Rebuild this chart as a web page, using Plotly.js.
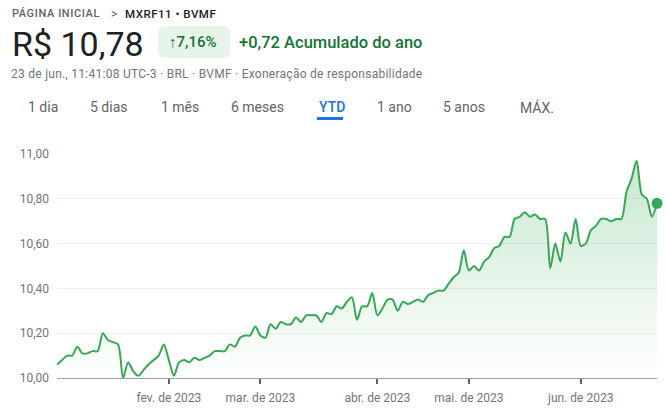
<!DOCTYPE html>
<html>
<head>
<meta charset="utf-8">
<script src="https://cdn.plot.ly/plotly-3.0.1.min.js"></script>
<style>html,body{margin:0;padding:0;background:#fff;}#chart{width:668px;height:413px;}</style>
</head>
<body>
<div id="chart"></div>
<script>
// ---- data ----
const dates = [
 '2023-01-02','2023-01-03','2023-01-04','2023-01-05','2023-01-06','2023-01-09','2023-01-10','2023-01-11','2023-01-12','2023-01-13',
 '2023-01-16','2023-01-17','2023-01-18','2023-01-19','2023-01-20','2023-01-23','2023-01-24','2023-01-25','2023-01-26','2023-01-27',
 '2023-01-30','2023-01-31',
 '2023-02-01','2023-02-02','2023-02-03','2023-02-06','2023-02-07','2023-02-08','2023-02-09','2023-02-10','2023-02-13','2023-02-14',
 '2023-02-15','2023-02-16','2023-02-17','2023-02-22','2023-02-23','2023-02-24','2023-02-27','2023-02-28',
 '2023-03-01','2023-03-02','2023-03-03','2023-03-06','2023-03-07','2023-03-08','2023-03-09','2023-03-10','2023-03-13','2023-03-14',
 '2023-03-15','2023-03-16','2023-03-17','2023-03-20','2023-03-21','2023-03-22','2023-03-23','2023-03-24','2023-03-27','2023-03-28',
 '2023-03-29','2023-03-30','2023-03-31',
 '2023-04-03','2023-04-04','2023-04-05','2023-04-06','2023-04-10','2023-04-11','2023-04-12','2023-04-13','2023-04-14','2023-04-17',
 '2023-04-18','2023-04-19','2023-04-20','2023-04-24','2023-04-25','2023-04-26','2023-04-27','2023-04-28',
 '2023-05-02','2023-05-03','2023-05-04','2023-05-05','2023-05-08','2023-05-09','2023-05-10','2023-05-11','2023-05-12','2023-05-15',
 '2023-05-16','2023-05-17','2023-05-18','2023-05-19','2023-05-22','2023-05-23','2023-05-24','2023-05-25','2023-05-26','2023-05-29',
 '2023-05-30','2023-05-31',
 '2023-06-01','2023-06-02','2023-06-05','2023-06-06','2023-06-07','2023-06-09','2023-06-12','2023-06-13','2023-06-14','2023-06-15',
 '2023-06-16','2023-06-19','2023-06-20','2023-06-21','2023-06-22','2023-06-23'
];
const prices = [
 10.06, 10.08, 10.10, 10.10, 10.14, 10.11, 10.11, 10.12, 10.12, 10.20,
 10.17, 10.16, 10.15, 10.00, 10.07, 10.03, 10.01, 10.035, 10.06, 10.08,
 10.10, 10.15, 10.08, 10.01, 10.07, 10.08, 10.07, 10.09, 10.08, 10.09,
 10.10, 10.12, 10.12, 10.12, 10.15, 10.14, 10.18, 10.19, 10.19, 10.23,
 10.19, 10.18, 10.24, 10.22, 10.25, 10.24, 10.24, 10.27, 10.25, 10.28,
 10.28, 10.28, 10.25, 10.29, 10.285, 10.32, 10.31, 10.34, 10.36, 10.26,
 10.32, 10.32, 10.38, 10.28, 10.31, 10.35, 10.35, 10.30, 10.34, 10.33,
 10.34, 10.35, 10.34, 10.37, 10.38, 10.39, 10.39, 10.42, 10.45, 10.47,
 10.57, 10.48, 10.50, 10.48, 10.52, 10.54, 10.58, 10.59, 10.63, 10.63,
 10.71, 10.72, 10.74, 10.72, 10.73, 10.71, 10.71, 10.49, 10.60, 10.52,
 10.65, 10.60, 10.71, 10.59, 10.60, 10.66, 10.68, 10.71, 10.71, 10.70,
 10.71, 10.71, 10.83, 10.89, 10.97, 10.82, 10.80, 10.72, 10.78
];
const tickDates = ['2023-02-01','2023-03-01','2023-04-03','2023-05-02','2023-06-01'];
const tickLabels = ['fev. de 2023','mar. de 2023','abr. de 2023','mai. de 2023','jun. de 2023'];
const yTicks = [10.0, 10.2, 10.4, 10.6, 10.8, 11.0];
const tabs = ['1 dia','5 dias','1 mês','6 meses','YTD','1 ano','5 anos','MÁX.'];
const activeTab = 'YTD';
const crumbHome = 'PÁGINA INICIAL';
const crumbTicker = 'MXRF11 • BVMF';
const priceText = 'R$ 10,78';
const changePct = '↑7,16%';
const changeAbs = '+0,72 Acumulado do ano';
const infoLine = '23 de jun., 11:41:08 UTC-3 · BRL · BVMF · Exoneração de responsabilidade';

// ---- layout helpers (pixel -> paper) ----
const L = 57, R = 11, T = 154, B = 35, W = 668, H = 413;
const PW = W - L - R, PH = H - T - B;
const X = px => (px - L) / PW;
const Y = py => (H - B - py) / PH;
const tabPos = [26, 88, 159, 229, 317, 375, 441, 518];

const FONT = 'Roboto, Arial, sans-serif';
const GREEN = '#34a853';

function roundRect(x0, y0, x1, y1, r) {
  const rx = r / PW, ry = r / PH;
  const a = X(x0), b = X(x1), top = Y(y0), bot = Y(y1);
  return `M ${a+rx},${top} L ${b-rx},${top} Q ${b},${top} ${b},${top-ry} L ${b},${bot+ry} Q ${b},${bot} ${b-rx},${bot} L ${a+rx},${bot} Q ${a},${bot} ${a},${bot+ry} L ${a},${top-ry} Q ${a},${top} ${a+rx},${top} Z`;
}

// letter spacing (px) applied after render, keyed by text
const spacing = {};
spacing[crumbHome] = 0.6;
spacing[crumbTicker] = 0.5;
spacing[infoLine] = 0.26;

const annotations = [
  {text: crumbHome, x: X(10), y: Y(13.5), font: {size: 11, color: '#5f6368', weight: 500}},
  {text: '>', x: X(109), y: Y(13.5), font: {size: 12, color: '#5f6368'}},
  {text: crumbTicker, x: X(123), y: Y(13.5), font: {size: 11.5, color: '#202124', weight: 500}},
  {text: priceText, x: X(10), y: Y(44), font: {size: 34, color: '#202124'}},
  {text: changePct, x: X(167), y: Y(42.5), font: {size: 15, color: '#137333', weight: 500}},
  {text: changeAbs, x: X(237), y: Y(42.5), font: {size: 16.5, color: '#137333', weight: 500}},
  {text: infoLine, x: X(9), y: Y(73.5), font: {size: 12, color: '#70757a'}}
].map(a => Object.assign({xref: 'paper', yref: 'paper', xanchor: 'left', yanchor: 'middle', showarrow: false}, a, {font: Object.assign({family: FONT}, a.font)}));

tabs.forEach((t, k) => {
  annotations.push({
    text: t, xref: 'paper', yref: 'paper', x: X(tabPos[k]), y: Y(107), xanchor: 'left', yanchor: 'middle',
    showarrow: false, font: {family: FONT, size: 14, color: t === activeTab ? '#1a73e8' : '#5f6368', weight: t === activeTab ? 500 : 400}
  });
});

const shapes = [
  {type: 'path', xref: 'paper', yref: 'paper', path: roundRect(158, 26, 230, 58, 8), fillcolor: '#e6f4ea', line: {width: 0}, layer: 'below'},
  {type: 'rect', xref: 'paper', yref: 'paper', x0: X(317), x1: X(343), y0: Y(117), y1: Y(120), fillcolor: '#1a73e8', line: {width: 0}}
];

const traces = [
  {
    x: dates, y: prices, type: 'scatter', mode: 'lines',
    line: {color: GREEN, width: 2, shape: 'spline', smoothing: 0.8},
    fill: 'tozeroy',
    fillgradient: {type: 'vertical', start: 10.0, stop: 11.0,
      colorscale: [[0, 'rgba(52,168,83,0)'], [1, 'rgba(52,168,83,0.28)']]},
    hoverinfo: 'skip'
  },
  {
    x: [dates[dates.length - 1]], y: [prices[prices.length - 1]], type: 'scatter', mode: 'markers',
    marker: {color: GREEN, size: 11}, cliponaxis: false, hoverinfo: 'skip'
  }
];

const layout = {
  width: W, height: H,
  margin: {l: L, r: R, t: T, b: B, pad: 0},
  paper_bgcolor: '#fff', plot_bgcolor: '#fff',
  showlegend: false,
  separators: ',.',
  font: {family: FONT, size: 12, color: '#70757a'},
  xaxis: {
    type: 'category', categoryorder: 'trace', range: [0, dates.length - 1],
    showgrid: false, zeroline: false,
    showline: true, linecolor: '#9aa0a6', linewidth: 1,
    tickmode: 'array', tickvals: tickDates, ticktext: tickLabels,
    ticks: 'outside', ticklen: 5, tickwidth: 2, tickcolor: '#5f6368',
    ticklabelstandoff: 4,
    tickfont: {family: FONT, size: 12, color: '#70757a'},
    fixedrange: true
  },
  yaxis: {
    range: [10, 11], tickmode: 'array', tickvals: yTicks, tickformat: '.2f',
    showgrid: true, gridcolor: '#eeeeee', gridwidth: 1,
    zeroline: false, showline: false, ticks: '',
    ticklabelstandoff: 7,
    tickfont: {family: FONT, size: 12, color: '#70757a'},
    fixedrange: true
  },
  annotations: annotations,
  shapes: shapes
};

Plotly.newPlot('chart', traces, layout, {displayModeBar: false, staticPlot: true}).then(gd => {
  gd.querySelectorAll('.annotation-text').forEach(el => {
    const s = spacing[el.textContent];
    if (!s) return;
    const bb = el.getBBox();
    el.setAttribute('text-anchor', 'start');
    el.setAttribute('x', bb.x);
    el.style.letterSpacing = s + 'px';
  });
});
</script>
</body>
</html>
